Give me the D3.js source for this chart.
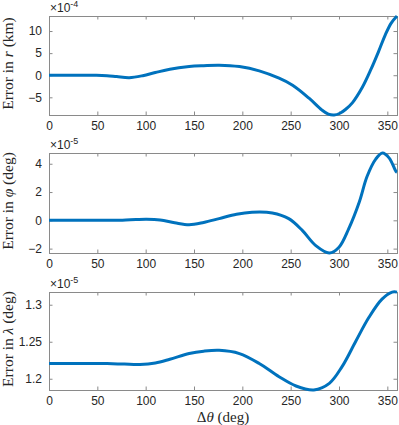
<!DOCTYPE html>
<html>
<head>
<meta charset="utf-8">
<title>Errors vs delta theta</title>
<style>
  body { margin: 0; background: #fff; }
  .tick text { font-family: "Liberation Sans", Arial, sans-serif; font-size: 12px; fill: #262626; }
</style>
</head>
<body>
<svg id="chart" width="399" height="425"></svg>

<script src="https://d3js.org/d3.v7.min.js"></script>
<script type="text/javascript">

// x values (deg) shared by the three curves
const theta = [0, 20, 40, 49, 60, 70, 83, 97, 110, 125, 145, 160, 176, 197, 217.5, 238, 252, 269, 282.5, 289, 295, 301, 307, 314, 324, 333, 341, 348, 354, 360];
// error in r, x1e-4 km
const errR = [0, 0, 0, 0, -0.1, -0.3, -0.55, -0.1, 0.6, 1.36, 1.95, 2.15, 2.27, 1.95, 0.98, -0.68, -2.27, -5.2, -7.9, -8.8, -9.0, -8.6, -7.7, -6.2, -2.8, 1.3, 5.4, 9.2, 11.8, 13.4];

const theta2 = [0, 20, 40, 60, 76, 90, 101, 115, 130, 145, 160, 176, 194, 210, 231, 248, 262, 276, 290, 300, 310, 321, 329, 338, 345, 352, 359, 360];
// error in phi, x1e-5 deg
const errPhi = [0, 0, 0, 0, 0.01, 0.05, 0.07, 0.02, -0.17, -0.31, -0.15, 0.12, 0.43, 0.57, 0.52, 0.12, -0.71, -1.79, -2.31, -1.9, -0.6, 1.3, 3.1, 4.33, 4.76, 4.4, 3.45, 3.4];

const theta3 = [0, 20, 40, 60, 78, 94, 110, 125, 145, 160, 176, 197, 217.5, 238, 255.5, 274, 290, 303, 317.5, 331, 344.5, 355, 360];
// error in lambda, x1e-5 deg
const errLam = [1.2206, 1.2206, 1.2206, 1.2205, 1.2198, 1.2193, 1.2213, 1.2263, 1.234, 1.2372, 1.2384, 1.234, 1.2206, 1.2027, 1.1902, 1.1849, 1.1938, 1.216, 1.251, 1.283, 1.3075, 1.317, 1.317];

const xTicks = [0, 50, 100, 150, 200, 250, 300, 350];

const panels = [
    { x: theta,  y: errR,   domain: [-9.0, 13.4],     ticks: [-5, 0, 5, 10],    exp: '-4', label: ['Error in ', 'r', ' (km)'],  fmt: d3.format('d') },
    { x: theta2, y: errPhi, domain: [-2.31, 4.76],    ticks: [-2, 0, 2, 4],     exp: '-5', label: ['Error in ', 'φ', ' (deg)'], fmt: d3.format('d') },
    { x: theta3, y: errLam, domain: [1.1848, 1.3172], ticks: [1.2, 1.25, 1.3],  exp: '-5', label: ['Error in ', 'λ', ' (deg)'], fmt: d => d3.format('')(d) },
];
const boxes = [[16, 115], [153, 253], [292, 390]];

const svg = d3.select('#chart');
const left = 49, right = 397;
const axisColor = '#8a8a8a';
const tickLen = 3.5;

const xScale = d3.scaleLinear().domain([0, 360]).range([left, right]);

panels.forEach((p, i) => {
    const [top, bottom] = boxes[i];
    const yScale = d3.scaleLinear().domain(p.domain).range([bottom, top]);
    const g = svg.append('g').attr('class', 'panel');

    // bottom axis with labels
    g.append('g')
        .attr('transform', `translate(0,${bottom})`)
        .call(d3.axisBottom(xScale).tickValues(xTicks).tickSize(-tickLen).tickPadding(6))
        .call(a => a.select('.domain').remove())
        .call(a => a.selectAll('line').attr('stroke', axisColor));
    // top ticks
    g.append('g')
        .attr('transform', `translate(0,${top})`)
        .call(d3.axisTop(xScale).tickValues(xTicks).tickSize(-tickLen).tickFormat(''))
        .call(a => a.select('.domain').remove())
        .call(a => a.selectAll('line').attr('stroke', axisColor));
    // left axis
    g.append('g')
        .attr('transform', `translate(${left},0)`)
        .call(d3.axisLeft(yScale).tickValues(p.ticks).tickSize(-tickLen).tickPadding(7).tickFormat(p.fmt))
        .call(a => a.select('.domain').remove())
        .call(a => a.selectAll('line').attr('stroke', axisColor));
    // right ticks
    g.append('g')
        .attr('transform', `translate(${right},0)`)
        .call(d3.axisRight(yScale).tickValues(p.ticks).tickSize(-tickLen).tickFormat(''))
        .call(a => a.select('.domain').remove())
        .call(a => a.selectAll('line').attr('stroke', axisColor));

    // box
    g.append('rect')
        .attr('x', left + 0.5).attr('y', top + 0.5)
        .attr('width', right - left).attr('height', bottom - top)
        .attr('fill', 'none').attr('stroke', axisColor).attr('stroke-width', 1)
        .attr('shape-rendering', 'crispEdges');

    // curve
    g.append('path')
        .datum(p.x.map((v, k) => [v, p.y[k]]))
        .attr('fill', 'none')
        .attr('stroke', '#0072BD')
        .attr('stroke-width', 3)
        .attr('stroke-linejoin', 'round')
        .attr('d', d3.line().x(d => xScale(d[0])).y(d => yScale(d[1])).curve(d3.curveCatmullRom));

    // exponent label
    const ex = g.append('text')
        .attr('x', left + 1).attr('y', top - 4)
        .attr('font-family', '"Liberation Sans", Arial, sans-serif')
        .attr('font-size', 12).attr('fill', '#262626');
    ex.append('tspan').text('×10');
    ex.append('tspan').attr('dy', -5).attr('font-size', 9).text(p.exp);

    // y label
    const yl = g.append('text')
        .attr('transform', `translate(13,${(top + bottom) / 2 - 2}) rotate(-90)`)
        .attr('text-anchor', 'middle')
        .attr('font-family', '"Liberation Serif", "Times New Roman", serif')
        .attr('font-size', 15.5).attr('fill', '#262626');
    yl.append('tspan').text(p.label[0]);
    yl.append('tspan').attr('font-style', 'italic').text(p.label[1]);
    yl.append('tspan').text(p.label[2]);
});

// x label
const xl = svg.append('text')
    .attr('x', (left + right) / 2).attr('y', 422)
    .attr('text-anchor', 'middle')
    .attr('font-family', '"Liberation Serif", "Times New Roman", serif')
    .attr('font-size', 15).attr('fill', '#262626');
xl.append('tspan').text('Δ');
xl.append('tspan').attr('font-style', 'italic').text('θ');
xl.append('tspan').text(' (deg)');

</script>
</body>
</html>
